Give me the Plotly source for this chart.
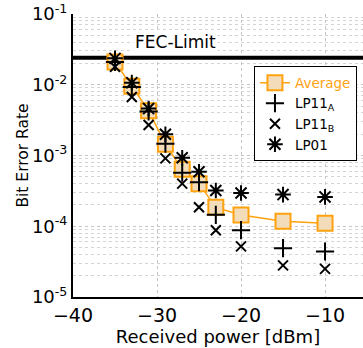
import plotly.graph_objects as go
import numpy as np

power = [-35, -33, -31, -29, -27, -25, -23, -20, -15, -10]
avg = [2.1e-2, 9.5e-3, 4.3e-3, 1.44e-3, 6.4e-4, 4.0e-4, 1.85e-4, 1.44e-4, 1.18e-4, 1.1e-4]
lp11a = [2.1e-2, 9.3e-3, 4.2e-3, 1.47e-3, 5.7e-4, 4.2e-4, 1.45e-4, 8.8e-5, 4.9e-5, 4.4e-5]
lp11b = [1.8e-2, 6.7e-3, 2.7e-3, 9.1e-4, 4.0e-4, 1.86e-4, 8.8e-5, 5.2e-5, 2.8e-5, 2.5e-5]
lp01 = [2.36e-2, 1.07e-2, 4.6e-3, 2.0e-3, 9.3e-4, 5.9e-4, 3.2e-4, 2.95e-4, 2.8e-4, 2.6e-4]
fec_limit = 2.4e-2
x_range = [-40, -5.48]
y_tickvals = [1e-5, 1e-4, 1e-3, 1e-2, 1e-1]
y_ticktext = ["10<sup>-5</sup>", "10<sup>-4</sup>", "10<sup>-3</sup>", "10<sup>-2</sup>", "10<sup>-1</sup>"]
x_tickvals = [-40, -30, -20, -10]

FONT = "DejaVu Sans"
ORANGE = "#FFA20F"
FILL = "#F3DCBA"

fig = go.Figure()
fig.add_trace(go.Scatter(x=x_range, y=[fec_limit, fec_limit], mode="lines",
                         line=dict(color="black", width=4), showlegend=False, hoverinfo="skip"))
fig.add_trace(go.Scatter(x=power, y=avg, mode="lines+markers", name="<span style='color:%s'>Average</span>" % ORANGE,
                         line=dict(color=ORANGE, width=1.5),
                         marker=dict(symbol="square", size=15, color=FILL, line=dict(color=ORANGE, width=2))))
fig.add_trace(go.Scatter(x=power, y=lp11a, mode="markers", name="LP11<sub>A</sub>",
                         marker=dict(symbol="cross-thin", size=13, color="black", line=dict(color="black", width=2))))
fig.add_trace(go.Scatter(x=power, y=lp11b, mode="markers", name="LP11<sub>B</sub>",
                         marker=dict(symbol="x-thin", size=10, color="black", line=dict(color="black", width=2))))
fig.add_trace(go.Scatter(x=power, y=lp01, mode="markers", name="LP01",
                         marker=dict(symbol="asterisk", size=13, color="black", line=dict(color="black", width=2))))

fig.add_annotation(x=-27.8, y=np.log10(0.04), text="FEC-Limit", showarrow=False,
                   font=dict(family=FONT, size=17, color="black"), bgcolor="white", xref="x", yref="y")

fig.update_layout(
    width=363, height=348,
    margin=dict(l=73, r=0, t=14, b=51),
    paper_bgcolor="white", plot_bgcolor="white",
    font=dict(family=FONT, color="black"),
    legend=dict(x=0.624, y=0.815, xanchor="left", yanchor="top",
                bordercolor="black", borderwidth=1, bgcolor="white",
                font=dict(family=FONT, size=13.5, color="black"),
                tracegroupgap=0, itemwidth=30),
    xaxis=dict(range=x_range, tickvals=x_tickvals, ticks="",
               tickfont=dict(family=FONT, size=19),
               title=dict(text="Received power [dBm]", font=dict(family=FONT, size=18), standoff=2),
               showline=True, linecolor="black", linewidth=2,
               showgrid=True, gridcolor="#c4c4c4", griddash="dot", gridwidth=1,
               zeroline=False),
    yaxis=dict(type="log", range=[-5, -1], tickvals=y_tickvals, ticktext=y_ticktext, ticks="",
               tickfont=dict(family=FONT, size=18),
               title=dict(text="Bit Error Rate", font=dict(family=FONT, size=15.5), standoff=0),
               showline=True, linecolor="black", linewidth=2,
               showgrid=True, gridcolor="#c4c4c4", griddash="dot", gridwidth=1,
               minor=dict(showgrid=True, gridcolor="#d4d4d4", griddash="dot", gridwidth=1, dtick="D1", ticks=""),
               zeroline=False),
)

fig.write_html("out.html")
